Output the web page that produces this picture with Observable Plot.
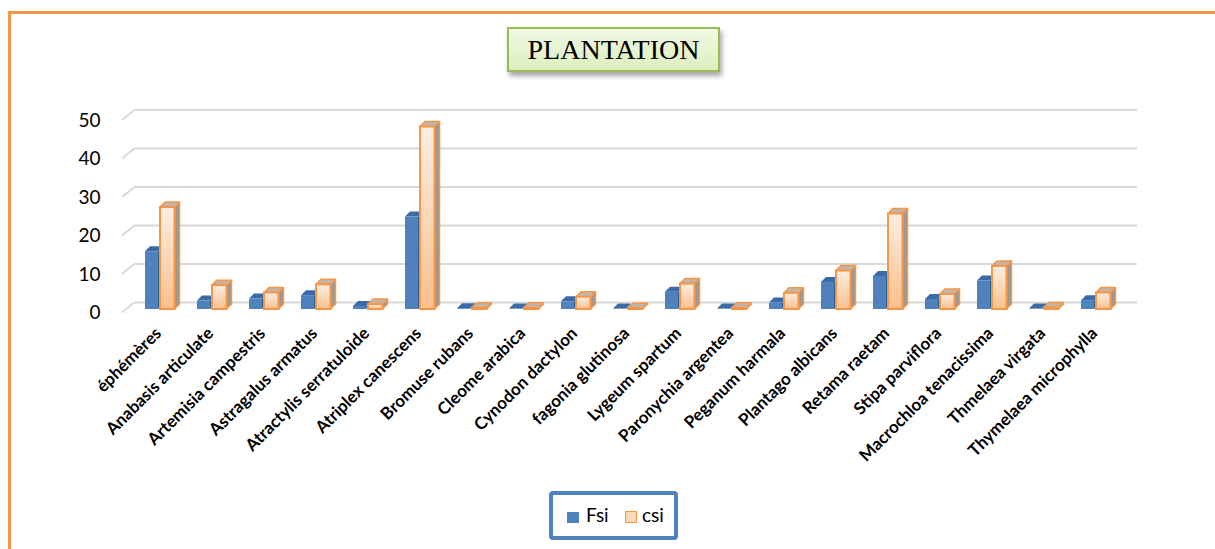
<!DOCTYPE html>
<html>
<head>
<meta charset="utf-8">
<script src="https://cdn.jsdelivr.net/npm/d3@7"></script>
<script src="https://cdn.jsdelivr.net/npm/@observablehq/plot@0.6"></script>
<style>
  html, body { margin: 0; padding: 0; background: #fff; }
  #wrap { position: relative; width: 1215px; height: 549px; overflow: hidden; background: #fff; }
  #frame { position: absolute; left: 8px; top: 11px; width: 1400px; height: 700px; border: 3px solid #f79646; pointer-events: none; }
  #title { position: absolute; left: 507px; top: 27px; width: 209px; height: 41px; border: 2px solid #9bbb59;
    background: linear-gradient(180deg, #f1f9e4 0%, #dcefbc 100%); box-shadow: 2px 4px 5px rgba(0,0,0,0.35);
    font-family: "Liberation Serif", serif; font-size: 28px; color: #000; text-align: center; line-height: 42px; }
  #legend { position: absolute; left: 549px; top: 491px; width: 121px; height: 41px; border: 4px solid #4f81bd; border-radius: 4px;
    background: #fff; font-family: Lato, sans-serif; font-size: 19px; color: #000; }
  .sw { position: absolute; width: 12px; height: 11px; }
  .lt { position: absolute; top: 8px; }
  #chart { position: absolute; left: 0; top: 0; }
</style>
</head>
<body>
<div id="wrap">
  <div id="chart"></div>
  <div id="title">PLANTATION</div>
  <div id="legend">
    <div class="sw" style="left:14px; top:17px; background:#4f81bd;"></div>
    <div class="lt" style="left:33px;">Fsi</div>
    <div class="sw" style="left:72px; top:16px; width:10px; height:10px; border:1.5px solid #f79646; background:#fdd9bb;"></div>
    <div class="lt" style="left:89px;">csi</div>
  </div>
  <div id="frame"></div>
</div>
<script>
const categories = ["éphémères","Anabasis articulate","Artemisia campestris","Astragalus armatus","Atractylis serratuloide","Atriplex canescens","Bromuse rubans","Cleome arabica","Cynodon dactylon","fagonia glutinosa","Lygeum spartum","Paronychia argentea","Peganum harmala","Plantago albicans","Retama raetam","Stipa parviflora","Macrochloa tenacissima","Thmelaea virgata","Thymelaea microphylla"];
const Fsi = [15, 2.2, 2.7, 3.6, 0.8, 24, 0.2, 0.1, 2.0, 0.1, 4.5, 0.1, 1.7, 7, 8.6, 2.6, 7.4, 0.1, 2.3];
const csi = [26.5, 6.2, 4.3, 6.4, 1.3, 47.4, 0.3, 0.3, 3.2, 0.2, 6.6, 0.3, 4.2, 10, 24.8, 3.9, 11.2, 0.4, 4.3];
const yTicks = [0, 10, 20, 30, 40, 50];

const data = categories.map((c, i) => ({cat: c, Fsi: Fsi[i], csi: csi[i]}));

const defsMark = () => {
  const defs = d3.create("svg:defs");
  const g = defs.append("linearGradient").attr("id", "csiGrad").attr("x1", 0).attr("y1", 0).attr("x2", 0).attr("y2", 1);
  g.append("stop").attr("offset", "0%").attr("stop-color", "#fdeee2");
  g.append("stop").attr("offset", "100%").attr("stop-color", "#fbbf8b");
  return defs.node();
};

const slantMark = (index, scales, values, dims) => {
  const g = d3.create("svg:g");
  for (const t of yTicks) {
    const y = scales.y(t);
    g.append("line")
      .attr("x1", dims.marginLeft).attr("y1", y + 3.5)
      .attr("x2", dims.marginLeft + 13).attr("y2", y - 7)
      .attr("stroke", "#d9d9d9").attr("stroke-width", 2);
  }
  return g.node();
};

// top and side faces of the 3D boxes, positioned through Plot's scales
const depthFaces = (key, insetL, insetR, topFill, sideFill, stroke) => (index, scales) => {
  const g = d3.create("svg:g");
  const step = scales.x(categories[1]) - scales.x(categories[0]);
  const d = 5;
  for (const row of data) {
    const x0 = scales.x(row.cat) + insetL;
    const x1 = scales.x(row.cat) + step - insetR;
    const y1 = scales.y(row[key]);
    const y0 = scales.y(0);
    g.append("path")
      .attr("d", `M${x1},${y1}L${x1 + d},${y1 - d}L${x1 + d},${y0 - d}L${x1},${y0}Z`)
      .attr("fill", sideFill).attr("stroke", stroke || "none").attr("stroke-width", 1.5).attr("stroke-linejoin", "round");
    g.append("path")
      .attr("d", `M${x0},${y1}L${x0 + d},${y1 - d}L${x1 + d},${y1 - d}L${x1},${y1}Z`)
      .attr("fill", topFill).attr("stroke", stroke || "none").attr("stroke-width", 1.5).attr("stroke-linejoin", "round");
  }
  return g.node();
};

const chart = Plot.plot({
  width: 1215,
  height: 549,
  marginLeft: 122,
  marginRight: 91,
  marginTop: 116.5,
  marginBottom: 240,
  style: {background: "transparent", overflow: "visible", fontFamily: "Lato, sans-serif", color: "#000"},
  x: {type: "band", domain: categories, padding: 0, label: null, axis: null},
  y: {domain: [0, 50], label: null, axis: null},
  marks: [
    defsMark,
    Plot.ruleY(yTicks, {dx: 13, dy: -7, stroke: "#d9d9d9", strokeWidth: 2}),
    slantMark,
    Plot.axisY(yTicks, {tickSize: 0, tickPadding: 22, dy: 3.5, fontSize: 19, fill: "#000"}),
    Plot.axisX({tickRotate: -45, tickSize: 0, tickPadding: 21, fontSize: 17, fontWeight: "bold", fill: "#000", dx: 3}),
    depthFaces("Fsi", 16, 23, "#3b6aa6", "#2f5a90"),
    Plot.barY(data, {x: "cat", y: "Fsi", insetLeft: 16, insetRight: 23, fill: "#4f81bd"}),
    depthFaces("csi", 31, 6.5, "#bfb6ae", "#9d9893", "#f79646"),
    Plot.barY(data, {x: "cat", y: "csi", insetLeft: 31, insetRight: 6.5, fill: "url(#csiGrad)", stroke: "#f79646", strokeWidth: 2})
  ]
});
document.getElementById("chart").appendChild(chart);
</script>
</body>
</html>
